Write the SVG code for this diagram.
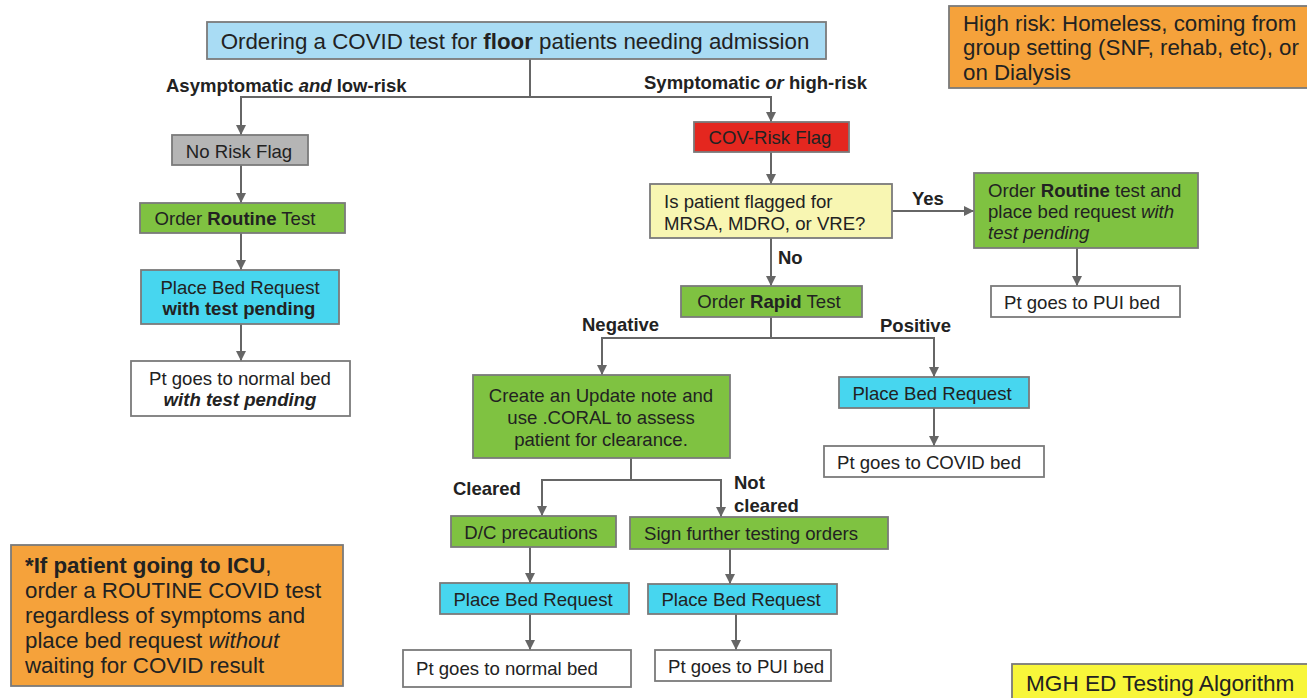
<svg xmlns="http://www.w3.org/2000/svg" width="1307" height="698" viewBox="0 0 1307 698">
<defs>
<marker id="ah" viewBox="0 0 10 10" refX="10" refY="5" markerWidth="5" markerHeight="5" orient="auto" markerUnits="strokeWidth">
<path d="M0,0 L10,5 L0,10 z" fill="#666"/>
</marker>
<style>
text{font-family:"Liberation Sans",Arial,sans-serif;fill:#222;}
.b{stroke:#7a7a7a;stroke-width:1.8;}
.blue{fill:#a9dcf4;}
.gray{fill:#b5b5b5;}
.green{fill:#7fc241;}
.cyan{fill:#47d6ef;}
.white{fill:#fff;}
.red{fill:#e4271f;}
.yel{fill:#f8f6b2;}
.org{fill:#f5a23b;}
.myel{fill:#f8f63a;}
.c{stroke:#666;stroke-width:2;fill:none;marker-end:url(#ah);}
.lbl{font-weight:bold;font-size:18.5px;}
.t{font-size:18.6px;}
.big{font-size:22.3px;}
.m{text-anchor:middle;}
</style>
</defs>
<g id="connectors">
<polyline class="c" points="530,59 530,97 241,97 241,135"/>
<polyline class="c" points="530,97 771,97 771,122"/>
<line class="c" x1="241" y1="165" x2="241" y2="203"/>
<line class="c" x1="241" y1="233" x2="241" y2="270"/>
<line class="c" x1="241" y1="324" x2="241" y2="361"/>
<line class="c" x1="771" y1="152" x2="771" y2="184"/>
<line class="c" x1="892" y1="211" x2="974" y2="211"/>
<line class="c" x1="1077" y1="248" x2="1077" y2="286"/>
<line class="c" x1="771" y1="238" x2="771" y2="286"/>
<polyline class="c" points="771,317 771,338 602,338 602,375"/>
<polyline class="c" points="771,338 934,338 934,377"/>
<line class="c" x1="934" y1="408" x2="934" y2="446"/>
<polyline class="c" points="631,458 631,480 542,480 542,516"/>
<polyline class="c" points="631,480 721,480 721,517"/>
<line class="c" x1="530" y1="547" x2="530" y2="583"/>
<line class="c" x1="730" y1="549" x2="730" y2="584"/>
<line class="c" x1="530" y1="614" x2="530" y2="650"/>
<line class="c" x1="736" y1="614" x2="736" y2="650"/>
<text class="lbl" x="166" y="92">Asymptomatic <tspan font-style="italic">and</tspan> low-risk</text>
<text class="lbl" x="644" y="89">Symptomatic <tspan font-style="italic">or</tspan> high-risk</text>
<text class="lbl" x="912" y="205">Yes</text>
<text class="lbl" x="778" y="264">No</text>
<text class="lbl" x="582" y="331">Negative</text>
<text class="lbl" x="880" y="332">Positive</text>
<text class="lbl" x="453" y="495">Cleared</text>
<text class="lbl" x="734" y="489">Not</text>
<text class="lbl" x="734" y="512">cleared</text>
</g>
<g id="start">
<rect class="b blue" x="207" y="22" width="619" height="37"/>
<text x="515" y="49" class="m big">Ordering a COVID test for <tspan font-weight="bold">floor</tspan> patients needing admission</text>
</g>
<g id="noRisk">
<rect class="b gray" x="172" y="135" width="136" height="30"/>
<text x="239" y="158" class="m t">No Risk Flag</text>
</g>
<g id="orderRoutine">
<rect class="b green" x="140" y="203" width="205" height="30"/>
<text x="235" y="225" class="m t">Order <tspan font-weight="bold">Routine</tspan> Test</text>
</g>
<g id="bedReq1">
<rect class="b cyan" x="141" y="270" width="198" height="54"/>
<text x="240" y="294" class="m t">Place Bed Request</text>
<text x="239" y="315" class="m t" font-weight="bold">with test pending</text>
</g>
<g id="normalBed1">
<rect class="b white" x="131" y="361" width="219" height="55"/>
<text x="240" y="385" class="m t">Pt goes to normal bed</text>
<text x="240" y="406" class="m t" font-weight="bold" font-style="italic">with test pending</text>
</g>
<g id="covRisk">
<rect class="b red" x="694" y="122" width="155" height="30"/>
<text x="770" y="144" class="m t">COV-Risk Flag</text>
</g>
<g id="flagged">
<rect class="b yel" x="650" y="184" width="242" height="54"/>
<text x="664" y="208" class="t">Is patient flagged for</text>
<text x="664" y="230" class="t">MRSA, MDRO, or VRE?</text>
</g>
<g id="orderRoutine2">
<rect class="b green" x="974" y="173" width="224" height="75"/>
<text x="988" y="197" class="t">Order <tspan font-weight="bold">Routine</tspan> test and</text>
<text x="988" y="218" class="t">place bed request <tspan font-style="italic">with</tspan></text>
<text x="988" y="239" class="t" font-style="italic">test pending</text>
</g>
<g id="puiBed1">
<rect class="b white" x="991" y="286" width="189" height="31"/>
<text x="1004" y="309" class="t">Pt goes to PUI bed</text>
</g>
<g id="highRisk">
<rect class="b org" x="949" y="6" width="362" height="82"/>
<text x="963" y="31" class="big">High risk: Homeless, coming from</text>
<text x="963" y="55" class="big">group setting (SNF, rehab, etc), or</text>
<text x="963" y="80" class="big">on Dialysis</text>
</g>
<g id="rapid">
<rect class="b green" x="681" y="286" width="181" height="31"/>
<text x="769" y="308" class="m t">Order <tspan font-weight="bold">Rapid</tspan> Test</text>
</g>
<g id="coral">
<rect class="b green" x="473" y="375" width="257" height="83"/>
<text x="601" y="402" class="m t">Create an Update note and</text>
<text x="601" y="424" class="m t">use .CORAL to assess</text>
<text x="601" y="446" class="m t">patient for clearance.</text>
</g>
<g id="bedReq2">
<rect class="b cyan" x="839" y="377" width="190" height="31"/>
<text x="932" y="400" class="m t">Place Bed Request</text>
</g>
<g id="covidBed">
<rect class="b white" x="824" y="446" width="220" height="31"/>
<text x="929" y="469" class="m t">Pt goes to COVID bed</text>
</g>
<g id="dc">
<rect class="b green" x="451" y="516" width="165" height="31"/>
<text x="531" y="539" class="m t">D/C precautions</text>
</g>
<g id="sign">
<rect class="b green" x="630" y="517" width="258" height="32"/>
<text x="751" y="540" class="m t">Sign further testing orders</text>
</g>
<g id="bedReq3">
<rect class="b cyan" x="440" y="583" width="189" height="31"/>
<text x="533" y="606" class="m t">Place Bed Request</text>
</g>
<g id="bedReq4">
<rect class="b cyan" x="648" y="584" width="189" height="30"/>
<text x="741" y="606" class="m t">Place Bed Request</text>
</g>
<g id="normalBed2">
<rect class="b white" x="403" y="650" width="228" height="37"/>
<text x="416" y="675" class="t">Pt goes to normal bed</text>
</g>
<g id="puiBed2">
<rect class="b white" x="655" y="650" width="176" height="31"/>
<text x="668" y="673" class="t">Pt goes to PUI bed</text>
</g>
<g id="icu">
<rect class="b org" x="11" y="545" width="332" height="141"/>
<text x="25" y="573" class="big"><tspan font-weight="bold">*If patient going to ICU</tspan>,</text>
<text x="25" y="598" class="big">order a ROUTINE COVID test</text>
<text x="25" y="623" class="big">regardless of symptoms and</text>
<text x="25" y="648" class="big">place bed request <tspan font-style="italic">without</tspan></text>
<text x="25" y="673" class="big">waiting for COVID result</text>
</g>
<g id="title">
<rect class="b myel" x="1012" y="664" width="300" height="40"/>
<text x="1026" y="691" font-size="22.6">MGH ED Testing Algorithm</text>
</g>
</svg>
